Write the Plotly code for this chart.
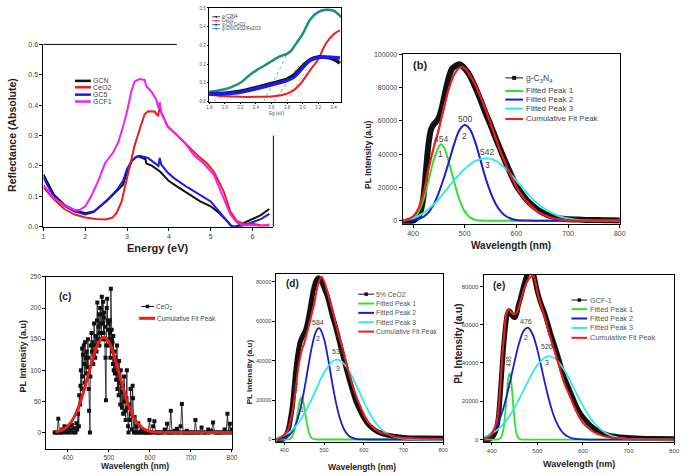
import plotly.graph_objects as go

W, H = 685, 475
FONT = "Arial, Liberation Sans, sans-serif"

# ---------------- (a) UV-vis reflectance ----------------
a_gcn_x = [1.0, 1.1, 1.25, 1.5, 1.75, 2.0, 2.2, 2.5, 2.75, 2.9, 2.95, 3.03, 3.12, 3.25, 3.4, 3.44, 3.46, 3.6, 3.8, 4.0, 4.2, 4.5, 4.75, 5.0, 5.2, 5.4, 5.5, 5.6, 5.75, 6.0, 6.2, 6.4]
a_gcn_y = [0.172, 0.143, 0.105, 0.072, 0.054, 0.044, 0.05, 0.083, 0.116, 0.137, 0.159, 0.19, 0.218, 0.232, 0.226, 0.222, 0.208, 0.2, 0.18, 0.15, 0.132, 0.105, 0.083, 0.067, 0.045, 0.018, 0.002, 0.0, 0.01, 0.024, 0.038, 0.058]
a_gc5_x = [1.0, 1.1, 1.25, 1.5, 1.75, 2.0, 2.2, 2.5, 2.75, 2.9, 3.0, 3.1, 3.2, 3.3, 3.5, 3.66, 3.75, 3.78, 3.82, 3.97, 4.13, 4.45, 4.76, 5.0, 5.23, 5.4, 5.5, 5.7, 6.0, 6.2, 6.4]
a_gc5_y = [0.163, 0.135, 0.1, 0.068, 0.05, 0.04, 0.048, 0.085, 0.12, 0.15, 0.19, 0.215, 0.228, 0.233, 0.226, 0.21, 0.2, 0.226, 0.204, 0.178, 0.159, 0.129, 0.103, 0.083, 0.045, 0.015, 0.0, 0.0, 0.015, 0.025, 0.042]
a_ceo2_x = [1.0, 1.25, 1.5, 1.75, 2.0, 2.25, 2.5, 2.65, 2.75, 2.87, 2.96, 3.07, 3.18, 3.3, 3.42, 3.5, 3.66, 3.74, 3.78, 3.82, 3.97, 4.2, 4.45, 4.68, 4.92, 5.08, 5.31, 5.47, 5.63, 5.79, 6.0, 6.2, 6.4]
a_ceo2_y = [0.13, 0.09, 0.058, 0.04, 0.03, 0.025, 0.024, 0.03, 0.045, 0.083, 0.137, 0.2, 0.267, 0.32, 0.37, 0.38, 0.379, 0.364, 0.39, 0.375, 0.33, 0.3, 0.267, 0.235, 0.207, 0.18, 0.116, 0.05, 0.018, 0.01, 0.01, 0.005, 0.003]
a_gcf1_x = [1.0, 1.25, 1.5, 1.75, 1.88, 2.0, 2.16, 2.32, 2.47, 2.67, 2.79, 2.91, 3.01, 3.1, 3.18, 3.3, 3.42, 3.46, 3.58, 3.7, 3.75, 3.78, 3.82, 3.97, 4.13, 4.37, 4.6, 4.84, 5.08, 5.27, 5.47, 5.63, 5.79, 6.0, 6.2, 6.4]
a_gcf1_y = [0.137, 0.094, 0.07, 0.054, 0.056, 0.067, 0.105, 0.154, 0.208, 0.245, 0.278, 0.332, 0.386, 0.445, 0.478, 0.486, 0.483, 0.462, 0.445, 0.418, 0.39, 0.41, 0.375, 0.33, 0.31, 0.278, 0.235, 0.207, 0.17, 0.105, 0.04, 0.013, 0.005, 0.005, 0.002, 0.007]
a_labels = ["GCN", "CeO2", "GC5", "GCF1"]

# ---------------- inset (band gap) ----------------
in_teal_x = [1.8, 1.9, 2.0, 2.1, 2.2, 2.3, 2.4, 2.5, 2.6, 2.7, 2.8, 2.85, 2.9, 3.0, 3.1, 3.2, 3.3, 3.4, 3.45, 3.5]
in_teal_y = [0.052, 0.058, 0.066, 0.08, 0.1, 0.135, 0.165, 0.19, 0.215, 0.24, 0.255, 0.27, 0.3, 0.36, 0.44, 0.478, 0.49, 0.485, 0.47, 0.45]
in_red_x = [1.8, 2.0, 2.2, 2.4, 2.6, 2.7, 2.8, 2.9, 3.0, 3.1, 3.2, 3.3, 3.4, 3.48]
in_red_y = [0.036, 0.028, 0.025, 0.025, 0.027, 0.032, 0.042, 0.065, 0.11, 0.17, 0.225, 0.31, 0.36, 0.38]
in_black_x = [1.8, 2.0, 2.2, 2.4, 2.6, 2.8, 2.9, 3.0, 3.1, 3.2, 3.3, 3.4, 3.48]
in_black_y = [0.043, 0.045, 0.055, 0.075, 0.097, 0.12, 0.145, 0.19, 0.225, 0.238, 0.236, 0.225, 0.205]
in_blue_x = [1.8, 2.0, 2.2, 2.4, 2.6, 2.8, 2.9, 3.0, 3.1, 3.2, 3.3, 3.4, 3.48]
in_blue_y = [0.04, 0.042, 0.05, 0.068, 0.09, 0.113, 0.135, 0.18, 0.22, 0.235, 0.238, 0.235, 0.232]
in_tan_teal = ([2.5, 2.82], [0.0, 0.27])
in_tan_black = ([2.63, 2.95], [0.0, 0.19])
in_tan_red = ([2.79, 3.05], [0.0, 0.17])
in_tan_gray = ([1.85, 2.02], [0.0, 0.04])
in_labels = ["g-C3N4", "CeO2", "g-CN CeO2", "g-CN/CeO2/Fe2O3"]

# ---------------- (b) g-C3N4 PL ----------------
b_data_x = [380, 390, 400, 405, 410, 415, 420, 425, 430, 435, 440, 445, 450, 455, 460, 465, 470, 475, 480, 485, 490, 495, 500, 505, 510, 520, 530, 540, 550, 560, 570, 580, 590, 600, 610, 620, 630, 640, 650, 660, 670, 680, 690, 700, 720, 740, 760, 780, 800]
b_data_y = [-1000, -500, 0, 1000, 2500, 6000, 14000, 30000, 46000, 55000, 58000, 59500, 62000, 67000, 74000, 81000, 87000, 91000, 92500, 93500, 94000, 93000, 91500, 89500, 87000, 80500, 73000, 65000, 57500, 49500, 42000, 34500, 27500, 21000, 16500, 12500, 9500, 7000, 5000, 3500, 2400, 1700, 1200, 900, 700, 500, 400, 300, 200]
b_fit_x = [380, 390, 400, 410, 420, 430, 440, 450, 460, 470, 480, 490, 495, 500, 510, 520, 530, 540, 550, 560, 570, 580, 590, 600, 610, 620, 630, 640, 650, 660, 670, 680, 690, 700, 720, 740, 760, 800]
b_fit_y = [0, 800, 2500, 7000, 16000, 31000, 44000, 55000, 68500, 80000, 88000, 92000, 92300, 91500, 87500, 82000, 75000, 67000, 58500, 49500, 41000, 33500, 26500, 20500, 15500, 11500, 8300, 5800, 4000, 2600, 1600, 1000, 600, 350, 120, 40, 10, 0]
b_p1_x = [380, 390, 400, 410, 420, 430, 440, 450, 454, 460, 470, 480, 490, 500, 510, 520, 530, 540, 600, 800]
b_p1_y = [0, 300, 1500, 5000, 12500, 24000, 36500, 44500, 46000, 44000, 34500, 23000, 12500, 5500, 2000, 500, 100, 0, 0, 0]
b_p2_x = [380, 400, 410, 420, 430, 440, 450, 460, 470, 480, 490, 500, 510, 520, 530, 540, 550, 560, 570, 580, 590, 600, 620, 640, 800]
b_p2_y = [0, 500, 1000, 2300, 5000, 9800, 17000, 26000, 36000, 46500, 54500, 57500, 55000, 47500, 37000, 26000, 17000, 10000, 5500, 2700, 1200, 500, 100, 0, 0]
b_p3_x = [380, 400, 420, 440, 460, 480, 500, 520, 542, 560, 580, 600, 620, 640, 660, 680, 700, 720, 740, 760, 800]
b_p3_y = [300, 1500, 4600, 9800, 16800, 24500, 31000, 35800, 37500, 36000, 31000, 24000, 16800, 10500, 6000, 3000, 1300, 500, 150, 0, 0]
b_peaks = [("454", "1", 454, 49000, 40200), ("500", "2", 500, 61000, 50900), ("542", "3", 544, 41400, 33700)]

# ---------------- (c) CeO2 PL ----------------
c_data_x = [368, 371, 374, 377, 380, 383, 386, 389, 392, 395, 398, 401, 404, 407, 410, 413, 416, 419, 421, 423,
            425, 427, 428, 430, 431, 432, 434, 435, 436, 437, 439, 440, 441, 442, 444, 445, 446, 448, 449, 450,
            451, 452, 454, 455, 456, 458, 459, 460, 462, 463, 464, 466, 467, 468, 470, 471, 472, 473, 475, 476,
            477, 478, 479, 481, 482, 483, 484, 485, 486, 487, 488, 489, 490, 491, 492, 493, 494, 495, 496, 497,
            498, 499, 500, 501, 502, 503, 504, 505, 506, 507, 508, 509, 510, 511, 512, 514, 515, 516, 518, 519,
            520, 521, 523, 524, 525, 527, 528, 529, 531, 532, 534, 535, 537, 538, 540, 541, 543, 544, 545, 547,
            548, 550, 551, 553, 554, 556, 558, 559, 561, 563, 565, 567, 569, 572, 575, 578, 581, 584, 587, 590,
            593, 596, 599, 602, 605, 608, 611, 614, 617, 620, 624, 628, 632, 636, 640, 642, 645, 648, 651, 654,
            657, 660, 663, 666, 669, 672, 675, 678, 681, 684, 687, 690, 693, 696, 700, 704, 708, 711, 714, 718,
            722, 726, 730, 734, 738, 742, 746, 750, 754, 758, 762, 766, 770, 774, 778, 782, 786, 789, 792, 795, 798, 800]
c_data_y = [0, 0, 0, 22, 0, 0, 5, 0, 10, 3, 0, 8, 0, 5, 12, 0, 7, 0, 15, 5,
            30, 10, 60, 45, 75, 100, 70, 135, 90, 125, 140, 110, 80, 145, 120, 95, 130, 105, 150, 120,
            70, 35, 0, 90, 140, 160, 130, 145, 110, 125, 175, 140, 120, 155, 130, 180, 209, 150, 170, 190,
            140, 160, 200, 175, 150, 218, 190, 175, 210, 160, 185, 193, 150, 170, 120, 52, 140, 200, 215, 180,
            165, 175, 150, 140, 180, 160, 120, 231, 150, 165, 130, 145, 110, 155, 100, 130, 95, 120, 85, 110,
            140, 70, 95, 60, 115, 80, 45, 100, 65, 40, 75, 30, 90, 50, 35, 20, 55, 100, 40, 10,
            0, 45, 20, 70, 30, 5, 75, 55, 0, 25, 0, 10, 0, 15, 0, 0, 5, 0, 0, 0,
            0, 0, 20, 0, 0, 10, 18, 0, 0, 0, 0, 0, 0, 5, 0, 14, 0, 0, 35, 0,
            0, 3, 0, 6, 0, 0, 10, 46, 0, 0, 0, 3, 0, 0, 0, 0, 0, 20, 0, 0,
            0, 8, 0, 0, 0, 5, 0, 3, 16, 0, 0, 0, 0, 0, 0, 5, 0, 30, 0, 14, 0, 5]
c_fit_x = [370, 380, 390, 400, 410, 420, 430, 440, 450, 460, 470, 480, 488, 490, 500, 510, 520, 530, 540, 550, 560, 570, 580, 590, 600, 610, 620, 700, 800]
c_fit_y = [1.2, 2.7, 5.5, 10.5, 18.6, 30.9, 47.7, 68.9, 92.8, 116.6, 136.8, 149.6, 153, 152.8, 145.6, 129.4, 107.3, 83, 60, 40.4, 25.4, 14.9, 8.2, 4.2, 2, 1, 0.4, 0, 0]

# ---------------- (d) 5% CeO2 PL ----------------
d_data_x = [380, 390, 400, 405, 410, 415, 420, 425, 430, 435, 440, 445, 450, 455, 460, 465, 470, 475, 480, 485, 490, 495, 500, 505, 510, 520, 530, 540, 550, 560, 570, 580, 590, 600, 610, 620, 630, 640, 660, 680, 700, 720, 750, 800]
d_data_y = [-1000, -500, 700, 2500, 5000, 10000, 16500, 27000, 37000, 44500, 49500, 52000, 54000, 56500, 61000, 66500, 72500, 77500, 80500, 82000, 81500, 79500, 77000, 74500, 71500, 63500, 56500, 48500, 40500, 33000, 26000, 19500, 15000, 11000, 8000, 6000, 4500, 3500, 2200, 1500, 1000, 800, 700, 600]
d_fit_x = [380, 390, 400, 408, 415, 421, 429, 437, 445, 450, 455, 462, 470, 475, 480, 485, 490, 494, 500, 505, 510, 517, 525, 533, 542, 550, 558, 567, 575, 583, 592, 600, 612, 625, 640, 658, 675, 692, 720, 760, 800]
d_fit_y = [0, 1000, 2500, 4300, 9000, 14500, 26000, 38600, 46000, 48800, 52500, 57800, 64500, 68500, 74000, 78500, 81500, 82500, 80500, 77500, 74000, 68700, 62500, 56100, 49500, 43600, 37000, 31000, 25500, 21000, 16500, 12700, 8500, 6000, 3800, 2700, 1600, 1000, 600, 400, 300]
d_p1_x = [380, 400, 410, 415, 420, 425, 430, 435, 440, 443, 446, 450, 455, 460, 465, 470, 475, 480, 490, 800]
d_p1_y = [0, 0, 80, 300, 1500, 4200, 9150, 15450, 20350, 21300, 20350, 16680, 10370, 5020, 1890, 555, 130, 20, 0, 0]
d_p2_x = [380, 400, 410, 420, 430, 440, 450, 460, 470, 480, 487, 490, 500, 510, 520, 530, 540, 550, 560, 570, 580, 590, 600, 620, 800]
d_p2_y = [100, 630, 1660, 3920, 8190, 15200, 25030, 36640, 47580, 54890, 56500, 56200, 51100, 41260, 29580, 18810, 10630, 5330, 2380, 940, 330, 100, 30, 0, 0]
d_p3_x = [380, 400, 420, 440, 460, 480, 500, 520, 533, 540, 560, 580, 600, 620, 640, 660, 680, 700, 720, 740, 760, 800]
d_p3_y = [845, 2175, 4910, 9690, 16780, 25460, 33830, 39390, 40500, 40170, 35900, 28110, 19280, 11590, 6110, 2820, 1140, 405, 130, 40, 0, 0]
d_peaks = [("584", "2", 485, 59500, 51500), ("533", "3", 535, 44500, 36000)]
d_peak1 = ("442", "1", 427, 26000, 445, 15000)

# ---------------- (e) GCF-1 PL ----------------
e_data_x = [382, 390, 400, 405, 411, 415, 418, 421, 425, 428, 431, 434, 437, 440, 443, 447, 451, 455, 458, 462, 465, 470, 475, 480, 485, 490, 495, 501, 508, 516, 523, 530, 538, 545, 552, 559, 567, 574, 581, 588, 595, 603, 614, 625, 640, 654, 670, 690, 708, 726, 760, 800]
e_data_y = [-850, -400, 860, 2500, 6300, 13000, 21800, 32000, 45800, 54000, 61000, 65500, 67200, 67000, 65500, 64000, 63800, 66000, 69800, 73000, 75800, 80500, 84500, 87500, 88500, 87500, 83000, 76500, 71000, 66000, 60500, 54800, 49000, 43700, 38000, 32500, 28000, 24000, 20000, 16300, 13400, 10900, 8000, 5700, 3800, 2500, 1700, 1200, 900, 700, 500, 400]
e_fit_x = [382, 390, 400, 405, 411, 415, 418, 421, 425, 428, 430, 433, 436, 440, 443, 447, 451, 455, 458, 465, 470, 475, 480, 485, 491, 496, 501, 508, 516, 523, 530, 538, 545, 552, 559, 567, 574, 581, 588, 595, 603, 614, 625, 640, 654, 670, 690, 726, 800]
e_fit_y = [300, 1000, 2900, 5500, 9800, 16000, 25200, 36000, 49200, 57000, 62900, 66500, 68000, 67500, 66300, 65500, 65500, 66500, 68000, 74000, 78000, 81000, 83500, 85000, 85500, 82000, 76000, 70000, 64100, 58000, 52000, 46000, 40500, 35000, 29500, 25000, 21000, 17000, 13500, 10500, 8000, 5600, 3700, 2200, 1300, 800, 450, 180, 100]
e_p1_x = [382, 400, 410, 415, 420, 425, 428, 431, 434, 437, 439, 441, 444, 447, 450, 453, 456, 460, 465, 470, 800]
e_p1_y = [0, 0, 10, 150, 870, 4680, 10070, 18000, 26800, 33200, 34600, 33200, 26800, 18000, 10070, 4680, 1810, 380, 30, 0, 0]
e_p2_x = [382, 390, 400, 410, 420, 430, 440, 450, 460, 470, 478, 480, 490, 500, 510, 520, 530, 540, 550, 560, 570, 580, 590, 600, 620, 800]
e_p2_y = [900, 1670, 3580, 7000, 12490, 20310, 30140, 40810, 50420, 56800, 58500, 58400, 54760, 46850, 36560, 26030, 16900, 10010, 5410, 2670, 1200, 490, 180, 60, 0, 0]
e_p3_x = [382, 400, 420, 440, 460, 480, 500, 520, 526, 540, 560, 580, 600, 620, 640, 660, 680, 700, 720, 740, 760, 800]
e_p3_y = [1280, 3150, 6800, 12810, 21170, 30660, 38900, 43240, 43500, 42110, 35920, 26870, 17600, 10100, 5080, 2230, 860, 290, 90, 25, 0, 0]
e_peaks = [("476", "2", 476, 61760, 53500), ("526", "3", 521, 48400, 40150)]
e_peak1 = ("438", "1", 436, 40700, 437, 28300)

pl_labels = ["Fitted Peak 1", "Fitted Peak 2", "Fitted Peak 3", "Cumulative Fit Peak"]

# ---------------- colours ----------------
BLACK, RED, BLUE, MAG, TEAL = "#111111", "#ee1c1c", "#1a1aee", "#f022f0", "#1b8f80"
GREEN, PBLUE, CYAN = "#33dd33", "#1c1ccc", "#33e8e8"


def px(x):
    return x / W


def py(y):
    return 1 - y / H


fig = go.Figure()


def line(xs, ys, color, width, ax, shape="linear", dash=None):
    fig.add_trace(go.Scatter(x=xs, y=ys, mode="lines", xaxis=ax[0], yaxis=ax[1],
                             line=dict(color=color, width=width, shape=shape, dash=dash),
                             hoverinfo="skip", showlegend=False))


A = ("x", "y")
IN = ("x2", "y2")
B = ("x3", "y3")
C = ("x4", "y4")
D = ("x5", "y5")
E = ("x6", "y6")

# (a)
line(a_gcn_x, a_gcn_y, BLACK, 2, A)
line(a_gc5_x, a_gc5_y, BLUE, 2, A)
line(a_ceo2_x, a_ceo2_y, RED, 2, A)
line(a_gcf1_x, a_gcf1_y, MAG, 2, A)

# inset
line(*in_tan_gray, "#999999", 0.7, IN, dash="dot")
line(*in_tan_teal, "#4a9a90", 0.7, IN, dash="dot")
line(*in_tan_black, "#555555", 0.7, IN, dash="dot")
line(*in_tan_red, "#dd6666", 0.7, IN, dash="dot")
line(in_teal_x, in_teal_y, TEAL, 2.5, IN, "spline")
line(in_red_x, in_red_y, RED, 2, IN, "spline")
line(in_black_x, in_black_y, BLACK, 3.5, IN, "spline")
line(in_blue_x, in_blue_y, BLUE, 3.5, IN, "spline")

# (b)
line(b_data_x, b_data_y, BLACK, 6, B, "spline")
line(b_p1_x, b_p1_y, GREEN, 2, B, "spline")
line(b_p2_x, b_p2_y, PBLUE, 2, B, "spline")
line(b_p3_x, b_p3_y, CYAN, 2, B, "spline")
line(b_fit_x, b_fit_y, RED, 2.2, B, "spline")

# (c)
fig.add_trace(go.Scatter(x=c_data_x, y=c_data_y, mode="lines+markers", xaxis="x4", yaxis="y4",
                         line=dict(color=BLACK, width=0.8),
                         marker=dict(symbol="square", size=4, color=BLACK),
                         hoverinfo="skip", showlegend=False))
line(c_fit_x, c_fit_y, RED, 3, C, "spline")

# (d)
line(d_data_x, d_data_y, BLACK, 5, D, "spline")
line(d_p1_x, d_p1_y, GREEN, 1.8, D, "spline")
line(d_p2_x, d_p2_y, PBLUE, 1.8, D, "spline")
line(d_p3_x, d_p3_y, CYAN, 1.8, D, "spline")
line(d_fit_x, d_fit_y, RED, 2, D, "spline")

# (e)
line(e_data_x, e_data_y, BLACK, 5, E, "spline")
line(e_p1_x, e_p1_y, GREEN, 1.8, E, "spline")
line(e_p2_x, e_p2_y, PBLUE, 1.8, E, "spline")
line(e_p3_x, e_p3_y, CYAN, 1.8, E, "spline")
line(e_fit_x, e_fit_y, RED, 2, E, "spline")

TICKF = dict(family=FONT, size=7, color="#444444")


def axis(dom, rng, dtick, tfont=TICKF, fmt=None, mirror=True, tick0=None, ticklen=3):
    d = dict(domain=dom, range=rng, dtick=dtick, showline=True, linecolor="black", linewidth=1,
             mirror=mirror, ticks="outside", ticklen=ticklen, tickwidth=1, tickcolor="black",
             showgrid=False, zeroline=False, tickfont=tfont, fixedrange=True)
    if fmt:
        d["tickformat"] = fmt
    if tick0 is not None:
        d["tick0"] = tick0
    return d


SMALL = dict(family=FONT, size=4.5, color="#555")
fig.update_layout(
    width=W, height=H, margin=dict(l=0, r=0, t=0, b=0),
    paper_bgcolor="white", plot_bgcolor="rgba(0,0,0,0)", showlegend=False,
    font=dict(family=FONT),
    # (a)
    xaxis=dict(axis([px(41), px(274)], [1, 6.5], 1, mirror=False), anchor="y"),
    yaxis=dict(axis([py(226), py(41)], [0, 0.6], 0.1, fmt=".1f", mirror=False), anchor="x"),
    # inset
    xaxis2=dict(axis([px(209), px(343)], [1.8, 3.5], 0.2, tfont=SMALL, fmt=".1f", ticklen=1.5), anchor="y2"),
    yaxis2=dict(axis([py(99), py(4)], [0, 0.5], 0.1, tfont=SMALL, fmt=".1f", ticklen=1.5), anchor="x2"),
    # (b)
    xaxis3=dict(axis([px(405), px(625)], [380, 800], 100, tick0=400), anchor="y3"),
    yaxis3=dict(axis([py(223), py(51)], [-1800, 100000], 20000, fmt="d"), anchor="x3"),
    # (c)
    xaxis4=dict(axis([px(44), px(232)], [348, 800], 100, tfont=dict(family=FONT, size=6.5, color="#444"), tick0=400, ticklen=2), anchor="y4"),
    yaxis4=dict(axis([py(452), py(277)], [-27, 250], 50, tfont=dict(family=FONT, size=6.5, color="#444")), anchor="x4"),
    # (d)
    xaxis5=dict(axis([px(277), px(446)], [380, 800], 100, tfont=dict(family=FONT, size=5.5, color="#444"), tick0=400, ticklen=2), anchor="y5"),
    yaxis5=dict(axis([py(445), py(274)], [-1500, 84000], 20000, tfont=dict(family=FONT, size=5.5, color="#444"), fmt="d"), anchor="x5"),
    # (e)
    xaxis6=dict(axis([px(487), px(680)], [382, 800], 100, tfont=dict(family=FONT, size=6, color="#444"), tick0=400, ticklen=2), anchor="y6"),
    yaxis6=dict(axis([py(445), py(275)], [-1500, 86000], 20000, tfont=dict(family=FONT, size=6, color="#444"), fmt="d"), anchor="x6"),
)

shapes = []
anns = []

# partial frame of (a) (hidden behind the inset)
shapes.append(dict(type="line", xref="x domain", yref="y domain", x0=0, x1=0.58, y0=1, y1=1,
                   line=dict(color="black", width=1)))
shapes.append(dict(type="line", xref="x domain", yref="y domain", x0=1, x1=1, y0=0, y1=0.5,
                   line=dict(color="black", width=1)))


def text(x, y, s, size, bold=False, color="#222", angle=0, xanchor="center", xref="paper", yref="paper"):
    if bold:
        s = "<b>" + s + "</b>"
    anns.append(dict(x=x, y=y, xref=xref, yref=yref, text=s, showarrow=False, textangle=angle,
                     font=dict(family=FONT, size=size, color=color), xanchor=xanchor, yanchor="middle",
                     borderpad=0))


def leg_line(x0, x1, y, color, width, marker=False, msize=4):
    shapes.append(dict(type="line", xref="paper", yref="paper", x0=px(x0), x1=px(x1), y0=py(y), y1=py(y),
                       line=dict(color=color, width=width)))
    if marker:
        xm = (x0 + x1) / 2
        h = msize / 2
        shapes.append(dict(type="rect", xref="paper", yref="paper", x0=px(xm - h), x1=px(xm + h),
                           y0=py(y + h), y1=py(y - h), fillcolor=color, line=dict(width=0)))


# ---- axis titles ----
text(px(9), py(133), "Reflectance (Absolute)", 10.5, True, angle=-90)
text(px(157), py(248), "Energy (eV)", 11, True)
text(px(370), py(153), "PL Intensity (a.u)", 8.5, True, angle=-90)
text(px(515), py(245), "Wavelength (nm)", 10, True)
text(px(20), py(358), "PL Intensity (a.u)", 9, True, angle=-90)
text(px(134), py(469), "Wavelength (nm)", 8.5, True)
text(px(250), py(373), "PL Intensity (a.u)", 8, True, angle=-90)
text(px(364), py(469.5), "Wavelength (nm)", 8.5, True)
text(px(462), py(345), "PL Intensity (a.u)", 10, True, angle=-90)
text(px(584), py(467), "Wavelength (nm)", 9, True)
text(px(278), py(111), "Eg (eV)", 4.5, color="#555")

# ---- panel letters ----
text(px(423), py(62), "(b)", 11, True)
text(px(63), py(297), "(c)", 10, True)
text(px(293), py(284), "(d)", 10, True)
text(px(503), py(286), "(e)", 10, True)

# ---- legend (a) ----
for lab, col, yy in zip(a_labels, [BLACK, RED, BLUE, MAG], [78, 84.5, 92, 99]):
    leg_line(73, 89, yy, col, 2.5)
    text(px(90), py(yy), lab, 7, color="#444", xanchor="left")

# ---- inset legend ----
for lab, col, yy in zip(in_labels, [BLACK, RED, BLUE, TEAL], [13, 17, 21, 25]):
    leg_line(212, 220, yy, col, 0.8, marker=True, msize=1.6)
    text(px(221), py(yy), lab, 4.5, color="#444", xanchor="left")

# ---- legend (b) ----
leg_line(509, 527, 75, BLACK, 1, marker=True, msize=4)
text(px(529), py(76), "g-C<sub>3</sub>N<sub>4</sub>", 8.5, color="#444", xanchor="left")
for lab, col, yy in zip(pl_labels, [GREEN, PBLUE, CYAN, RED], [88.3, 97, 106.2, 116.7]):
    leg_line(509, 527, yy, col, 2)
    text(px(529), py(yy), lab, 8, color="#444", xanchor="left")

# ---- legend (c) ----
leg_line(140, 153, 307, BLACK, 1, marker=True, msize=3.5)
text(px(154), py(308), "CeO<sub>2</sub>", 6.5, color="#444", xanchor="left")
leg_line(138, 154, 319, RED, 3)
text(px(155), py(319), "Cumulative Fit Peak", 6.5, color="#444", xanchor="left")

# ---- legend (d) ----
leg_line(360, 376, 294.5, BLACK, 1, marker=True, msize=3.5)
text(px(377), py(294.5), "5% CeO2", 6.8, color="#555", xanchor="left")
for lab, col, yy in zip(pl_labels, [GREEN, PBLUE, CYAN, RED], [304, 313.5, 323, 332.5]):
    leg_line(360, 376, yy, col, 2)
    text(px(377), py(yy), lab, 6.8, color="#555", xanchor="left")

# ---- legend (e) ----
leg_line(576, 592, 300.5, BLACK, 1, marker=True, msize=3.5)
text(px(594), py(300.5), "GCF-1", 7.3, color="#555", xanchor="left")
for lab, col, yy in zip(pl_labels, [GREEN, PBLUE, CYAN, RED], [309.7, 319.2, 328.8, 338.8]):
    leg_line(576, 592, yy, col, 2)
    text(px(594), py(yy), lab, 7.3, color="#555", xanchor="left")

# ---- peak labels ----
for top, num, xx, y1, y2 in b_peaks:
    text(xx, y1, top, 8.5, color="#444", xref="x3", yref="y3")
    text(xx, y2, num, 8.5, color="#444", xref="x3", yref="y3")
for top, num, xx, y1, y2 in d_peaks:
    text(xx, y1, top, 7, color="#444", xref="x5", yref="y5")
    text(xx, y2, num, 7, color="#444", xref="x5", yref="y5")
text(d_peak1[2], d_peak1[3], d_peak1[0], 6.5, color="#444", angle=-90, xref="x5", yref="y5")
text(d_peak1[4], d_peak1[5], d_peak1[1], 7, color="#444", xref="x5", yref="y5")
for top, num, xx, y1, y2 in e_peaks:
    text(xx, y1, top, 7, color="#444", xref="x6", yref="y6")
    text(xx, y2, num, 7, color="#444", xref="x6", yref="y6")
text(e_peak1[2], e_peak1[3], e_peak1[0], 6.5, color="#444", angle=-90, xref="x6", yref="y6")
text(e_peak1[4], e_peak1[5], e_peak1[1], 7, color="#444", xref="x6", yref="y6")

fig.update_layout(shapes=shapes, annotations=anns)
fig.write_html("out.html", config={"displayModeBar": False},
               post_script="document.body.style.margin='0';document.body.style.padding='0';"
                           "document.documentElement.style.overflow='hidden';")
